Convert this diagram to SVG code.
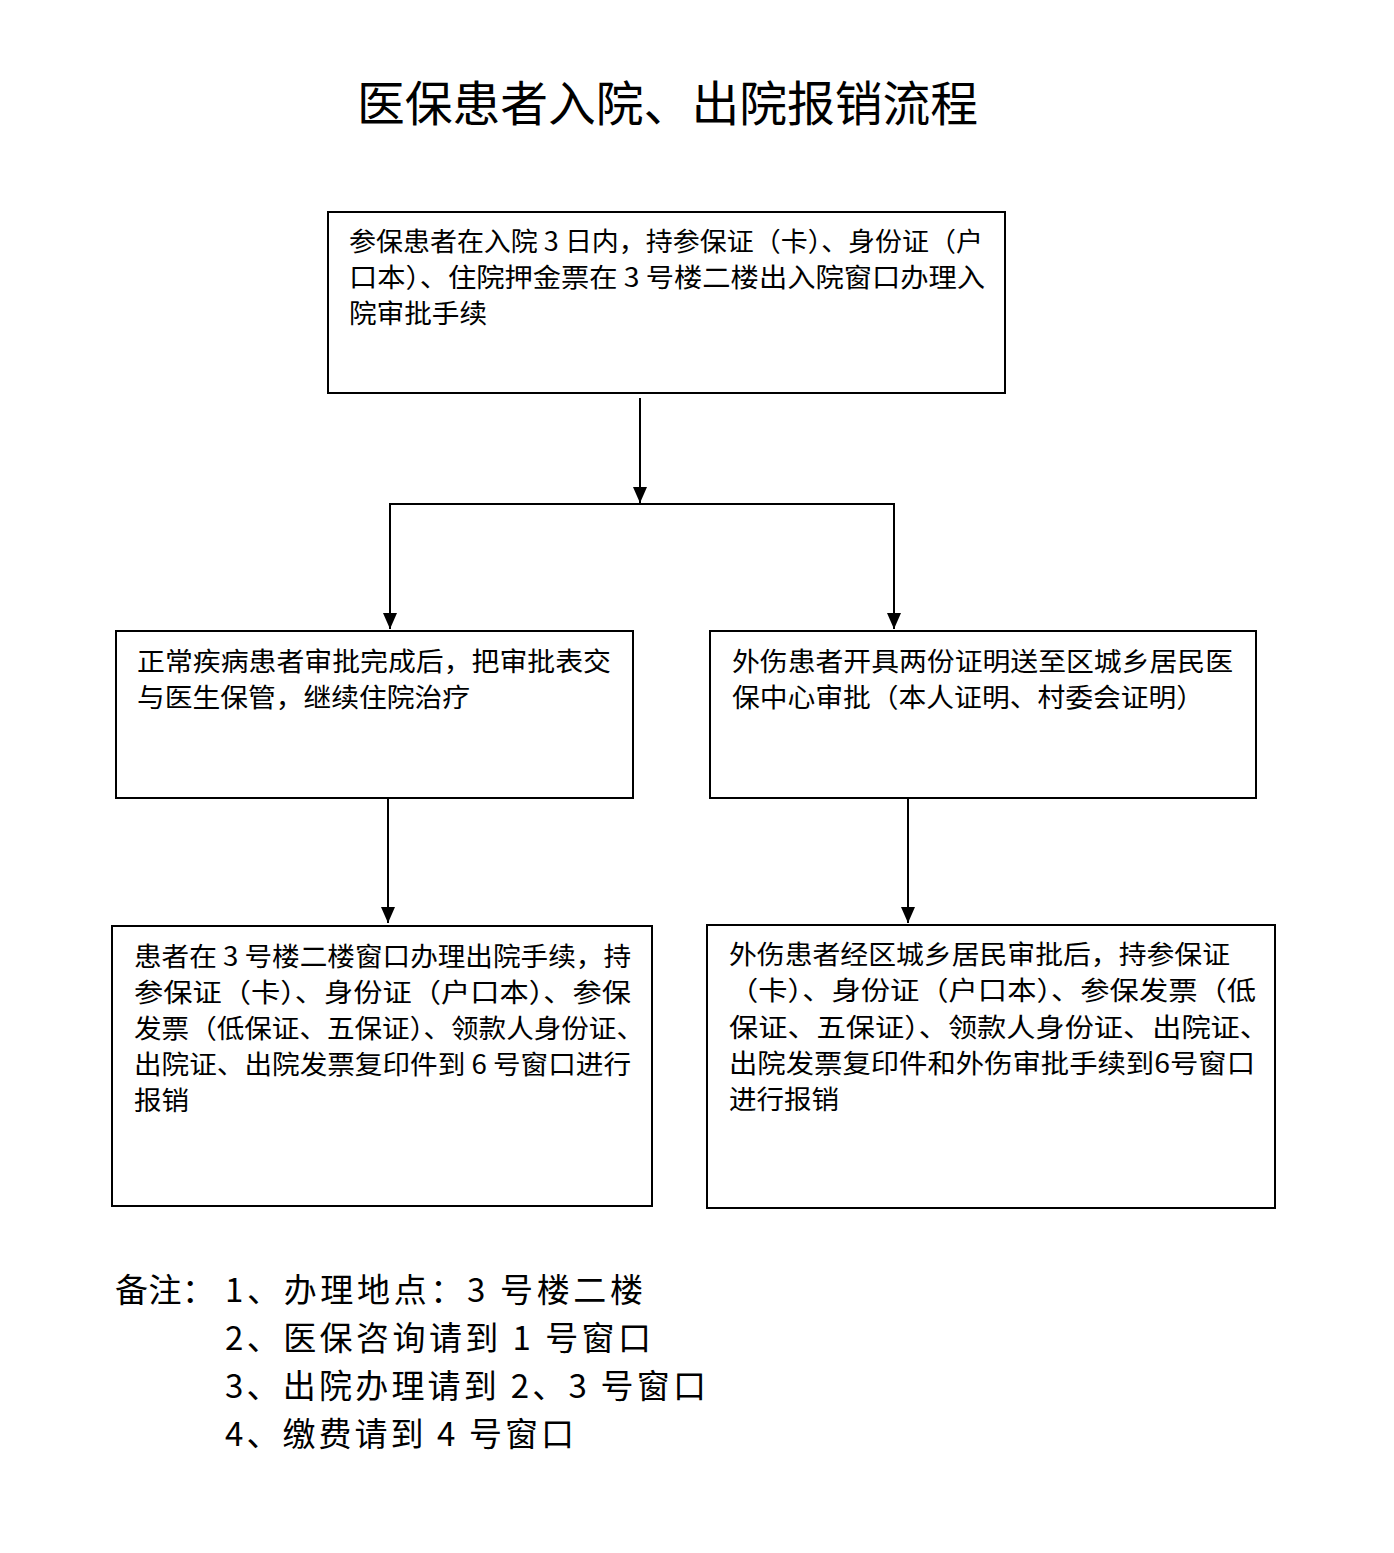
<svg xmlns="http://www.w3.org/2000/svg" width="1394" height="1553" viewBox="0 0 1394 1553">
<style>
text{font-family:"Noto Sans CJK SC","Liberation Sans",sans-serif;fill:#000}
.t{font-size:48px}
.b{font-size:26.5px}
.n{font-size:33px}
.box{fill:#fff;stroke:#000;stroke-width:2}
.c{fill:none;stroke:#000;stroke-width:2}
</style>
<defs>
<marker id="ah" markerUnits="userSpaceOnUse" markerWidth="16" markerHeight="18" refX="8" refY="16" orient="0" viewBox="0 0 16 18">
<path d="M1,0 L15,0 L8,16 Z" fill="#000"/>
</marker>
</defs>
<rect width="1394" height="1553" fill="#fff"/>
<text class="t" x="357" y="121" textLength="621" lengthAdjust="spacingAndGlyphs">医保患者入院、出院报销流程</text>

<g id="connectors">
<path class="c" d="M640,398 V503" marker-end="url(#ah)"/>
<path class="c" d="M389,504 H895"/>
<path class="c" d="M390,504 V629" marker-end="url(#ah)"/>
<path class="c" d="M894,504 V629" marker-end="url(#ah)"/>
<path class="c" d="M388,799 V923" marker-end="url(#ah)"/>
<path class="c" d="M908,799 V923" marker-end="url(#ah)"/>
</g>

<g id="n1">
<rect class="box" x="328" y="212" width="677" height="181"/>
<text class="b" x="349" y="251" textLength="634" lengthAdjust="spacingAndGlyphs">参保患者在入院 3 日内，持参保证（卡）、身份证（户</text>
<text class="b" x="349" y="287" textLength="636" lengthAdjust="spacingAndGlyphs">口本）、住院押金票在 3 号楼二楼出入院窗口办理入</text>
<text class="b" x="349" y="323" textLength="138" lengthAdjust="spacingAndGlyphs">院审批手续</text>
</g>

<g id="n2">
<rect class="box" x="116" y="631" width="517" height="167"/>
<text class="b" x="137" y="671" textLength="474" lengthAdjust="spacingAndGlyphs">正常疾病患者审批完成后，把审批表交</text>
<text class="b" x="137" y="707" textLength="333" lengthAdjust="spacingAndGlyphs">与医生保管，继续住院治疗</text>
</g>

<g id="n3">
<rect class="box" x="710" y="631" width="546" height="167"/>
<text class="b" x="732" y="671" textLength="501" lengthAdjust="spacingAndGlyphs">外伤患者开具两份证明送至区城乡居民医</text>
<text class="b" x="732" y="707" textLength="472" lengthAdjust="spacingAndGlyphs">保中心审批（本人证明、村委会证明）</text>
</g>

<g id="n4">
<rect class="box" x="112" y="926" width="540" height="280"/>
<text class="b" x="134" y="966" textLength="497" lengthAdjust="spacingAndGlyphs">患者在 3 号楼二楼窗口办理出院手续，持</text>
<text class="b" x="134" y="1002" textLength="497" lengthAdjust="spacingAndGlyphs">参保证（卡）、身份证（户口本）、参保</text>
<text class="b" x="134" y="1038" textLength="510" lengthAdjust="spacingAndGlyphs">发票（低保证、五保证）、领款人身份证、</text>
<text class="b" x="134" y="1074" textLength="497" lengthAdjust="spacingAndGlyphs">出院证、出院发票复印件到 6 号窗口进行</text>
<text class="b" x="134" y="1110" textLength="55" lengthAdjust="spacingAndGlyphs">报销</text>
</g>

<g id="n5">
<rect class="box" x="707" y="925" width="568" height="283"/>
<text class="b" x="729" y="964" textLength="501" lengthAdjust="spacingAndGlyphs">外伤患者经区城乡居民审批后，持参保证</text>
<text class="b" x="729" y="1000" textLength="527" lengthAdjust="spacingAndGlyphs">（卡）、身份证（户口本）、参保发票（低</text>
<text class="b" x="729" y="1037" textLength="540" lengthAdjust="spacingAndGlyphs">保证、五保证）、领款人身份证、出院证、</text>
<text class="b" x="729" y="1073" textLength="526" lengthAdjust="spacingAndGlyphs">出院发票复印件和外伤审批手续到6号窗口</text>
<text class="b" x="729" y="1109" textLength="110" lengthAdjust="spacingAndGlyphs">进行报销</text>
</g>

<g id="notes">
<text class="n" x="115" y="1302" textLength="100" lengthAdjust="spacing">备注：</text>
<text class="n" x="225" y="1302" textLength="418" lengthAdjust="spacing">1、办理地点：3 号楼二楼</text>
<text class="n" x="225" y="1350" textLength="426" lengthAdjust="spacing">2、医保咨询请到 1 号窗口</text>
<text class="n" x="225" y="1398" textLength="481" lengthAdjust="spacing">3、出院办理请到 2、3 号窗口</text>
<text class="n" x="225" y="1446" textLength="349" lengthAdjust="spacing">4、缴费请到 4 号窗口</text>
</g>
</svg>
